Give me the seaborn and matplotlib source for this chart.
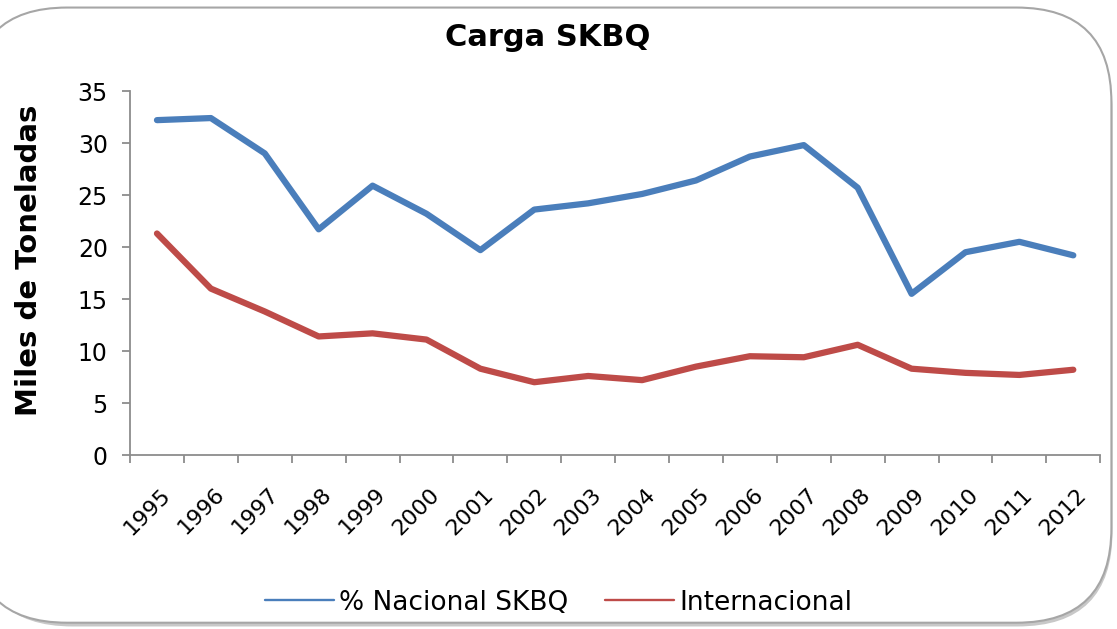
import pandas as pd
import matplotlib
matplotlib.use('Agg')
import matplotlib.pyplot as plt
import matplotlib.transforms as mtransforms
from matplotlib.patches import FancyBboxPatch
import seaborn as sns

sns.set_style('white')
plt.rcParams['font.family'] = ['DejaVu Sans']
plt.rcParams['text.color'] = 'black'
plt.rcParams['xtick.color'] = 'black'
plt.rcParams['ytick.color'] = 'black'
plt.rcParams['axes.labelcolor'] = 'black'

years = list(range(1995, 2013))
nacional = [32.2, 32.4, 29.0, 21.7, 25.9, 23.2, 19.7, 23.6, 24.2, 25.1,
            26.4, 28.7, 29.8, 25.7, 15.5, 19.5, 20.5, 19.2]
internacional = [21.3, 16.0, 13.8, 11.4, 11.7, 11.1, 8.3, 7.0, 7.6, 7.2,
                 8.5, 9.5, 9.4, 10.6, 8.3, 7.9, 7.7, 8.2]
series_names = ['% Nacional SKBQ', 'Internacional']
colors = ['#4A7EBB', '#BE4B48']

df = pd.DataFrame({'Año': years * 2,
                   'Valor': nacional + internacional,
                   'Serie': [series_names[0]] * len(years) + [series_names[1]] * len(years)})

fig = plt.figure(figsize=(11.17, 6.29), dpi=100)

# rounded chart-area frame with a soft shadow
shadow = FancyBboxPatch((-0.02, 0.004), 1.016, 0.972, boxstyle='round,pad=0,rounding_size=0.085',
                        transform=fig.transFigure, facecolor='#c8c8c8', edgecolor='none',
                        mutation_aspect=11.17 / 6.29, zorder=-2)
frame = FancyBboxPatch((-0.025, 0.01), 1.02, 0.978, boxstyle='round,pad=0,rounding_size=0.085',
                       transform=fig.transFigure, facecolor='white', edgecolor='#a6a6a6',
                       linewidth=1.5, mutation_aspect=11.17 / 6.29, zorder=-1)
fig.patches.extend([shadow, frame])

ax = fig.add_axes([0.1164, 0.2766, 0.8686, 0.5787])
ax.set_facecolor('none')
ax.set_zorder(1)
sns.lineplot(data=df, x='Año', y='Valor', hue='Serie', palette=colors,
             linewidth=4.5, ax=ax, legend=False)

ax.set_xlim(1994.5, 2012.5)
ax.set_ylim(0, 35)
ax.set_yticks(range(0, 36, 5))
ax.set_xticks([y - 0.5 for y in years] + [years[-1] + 0.5])
ax.set_xticklabels([])
ax.set_xticks(years, minor=True)
ax.set_xticklabels([str(y) for y in years], minor=True, rotation=45,
                   ha='right', rotation_mode='anchor', fontsize=16)
ax.tick_params(axis='x', which='minor', bottom=False, length=0, pad=21)
ax.tick_params(axis='x', which='major', bottom=True, length=6, width=1.3,
               color='#8c8c8c', direction='out')
ax.tick_params(axis='y', left=True, length=6, width=1.3, color='#8c8c8c',
               direction='out', labelsize=17, pad=10)

# nudge rotated year labels to the right like the original
offset = mtransforms.ScaledTranslation(3 / 100, 0, fig.dpi_scale_trans)
for lbl in ax.get_xticklabels(minor=True):
    lbl.set_transform(lbl.get_transform() + offset)

for side in ['top', 'right']:
    ax.spines[side].set_visible(False)
for side in ['left', 'bottom']:
    ax.spines[side].set_color('#8c8c8c')
    ax.spines[side].set_linewidth(1.3)

ax.set_xlabel('')
ax.set_ylabel('Miles de Toneladas', fontsize=21, fontweight='bold')
ax.yaxis.set_label_coords(-0.09, 0.535)

fig.text(0.4906, 0.9396, 'Carga SKBQ', ha='center', va='center', fontsize=22, fontweight='bold')

handles = [plt.Line2D([], [], color=c, linewidth=1.7) for c in colors]
fig.legend(handles, series_names, loc='center', bbox_to_anchor=(0.5, 0.042), ncol=2,
           frameon=False, fontsize=19, handlelength=2.6, columnspacing=1.4, handletextpad=0.2)

plt.savefig('out.png', dpi=100)
plt.close()
